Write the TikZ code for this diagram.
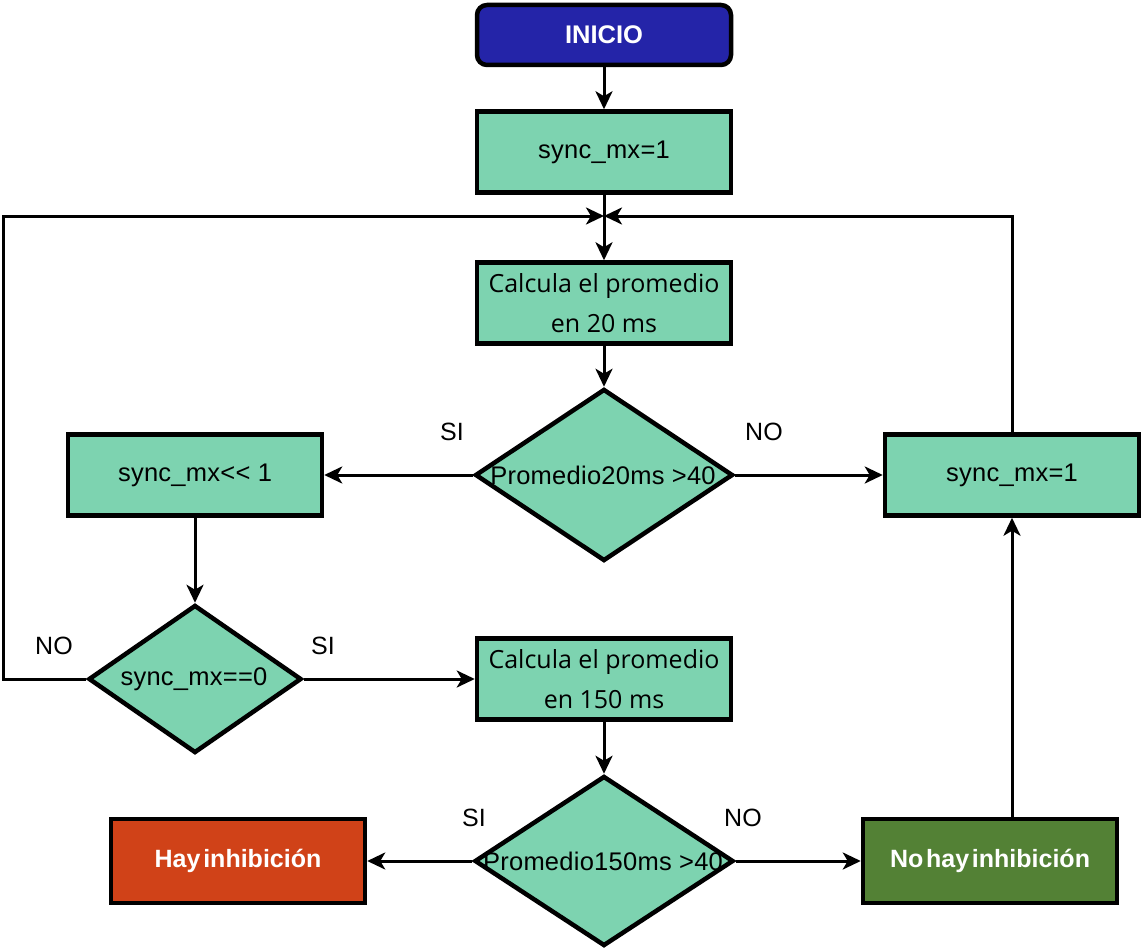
\documentclass[tikz,border=0pt]{standalone}
\usepackage{fontspec}
\setmainfont{Liberation Sans}
\newfontfamily\osfont{Open Sans}
\newfontfamily\arfont[LetterSpace=1]{Liberation Sans}
\newfontfamily\bdfont[WordSpace=0.4]{Liberation Sans Bold}
\usetikzlibrary{shapes.geometric,arrows.meta}
\definecolor{cblue}{RGB}{36,36,168}
\definecolor{cmint}{RGB}{125,211,176}
\definecolor{corange}{RGB}{208,66,24}
\definecolor{cdgreen}{RGB}{83,129,53}
\tikzset{
  box/.style={draw=black, line width=4.5pt, fill=cmint, minimum width=254pt, minimum height=81pt, inner sep=0pt, align=center},
  dec/.style={draw=black, line width=4.5pt, fill=cmint, shape=diamond, inner sep=0pt},
  conn/.style={line width=3pt, -{Stealth[length=18pt,width=17pt,inset=5pt]}},
  plain/.style={line width=3pt},
  lbl/.style={font=\arfont\fontsize{25}{30}\selectfont, inner sep=0pt},
  artxt/.style={font=\arfont\fontsize{25.5}{30}\selectfont},
  ostxt/.style={font=\osfont\fontsize{25}{40}\selectfont},
  bdtxt/.style={font=\bdfont\fontsize{25}{30}\selectfont, text=white}
}
\begin{document}
\begin{tikzpicture}[x=1pt,y=-1pt]
\useasboundingbox (0,0) rectangle (1144,950);
% nodes
\node[box, fill=cblue, rounded corners=10pt, minimum height=60pt, bdtxt, font=\bdfont\fontsize{25.5}{30}\selectfont] (ini) at (604,35) {INICIO};
\node[box, artxt] (s1) at (604,152) {sync\_mx=1};
\coordinate (j) at (604,216);
\node[box, ostxt] (c20) at (604,303) {Calcula el promedio\\en 20 ms};
\node[dec, minimum width=258pt, minimum height=172pt] (d1) at (604,475) {};
\node[artxt, inner sep=0pt] (d1t) at (603,475) {Promedio20ms >40};
\node[box, artxt] (sh) at (195,475) {sync\_mx<< 1};
\node[box, artxt] (s2) at (1012,475) {sync\_mx=1};
\node[dec, minimum width=213pt, minimum height=148pt] (d2) at (195,679) {};
\node[artxt, inner sep=0pt] (d2t) at (194,679) {sync\_mx==0};
\node[box, ostxt] (c150) at (604,679) {Calcula el promedio\\en 150 ms};
\node[dec, minimum width=259pt, minimum height=170pt] (d3) at (604,861) {};
\node[artxt, inner sep=0pt] (d3t) at (603,861) {Promedio150ms >40};
\node[box, fill=corange, bdtxt, minimum height=84pt] (hay) at (238,861) {Hay inhibición};
\node[box, fill=cdgreen, bdtxt, minimum height=84pt] (nohay) at (990,861) {No hay inhibición};
% labels
\node[lbl] (l1) at (452,432) {SI};
\node[lbl] (l2) at (764,432) {NO};
\node[lbl] (l3) at (54,646) {NO};
\node[lbl] (l4) at (323,646) {SI};
\node[lbl] (l5) at (474,818) {SI};
\node[lbl] (l6) at (743,818) {NO};
% connectors
\draw[conn] (ini.south) -- (s1.north);
\draw[plain] (s1.south) -- (j);
\draw[conn] (j) -- (c20.north);
\draw[conn] (c20.south) -- (d1.north);
\draw[conn] (d1.west) -- (sh.east);
\draw[conn] (d1.east) -- (s2.west);
\draw[conn] (sh.south) -- (d2.north);
\draw[conn] (d2.east) -- (c150.west);
\draw[conn] (c150.south) -- (d3.north);
\draw[conn] (d3.west) -- (hay.east);
\draw[conn] (d3.east) -- (nohay.west);
\coordinate (lc) at (3,679);
\draw[conn] (d2.west) -- (lc) |- (j);
\draw[conn] (s2.north) |- (j);
\draw[conn] (s2.south |- nohay.north) -- (s2.south);
\end{tikzpicture}
\end{document}
